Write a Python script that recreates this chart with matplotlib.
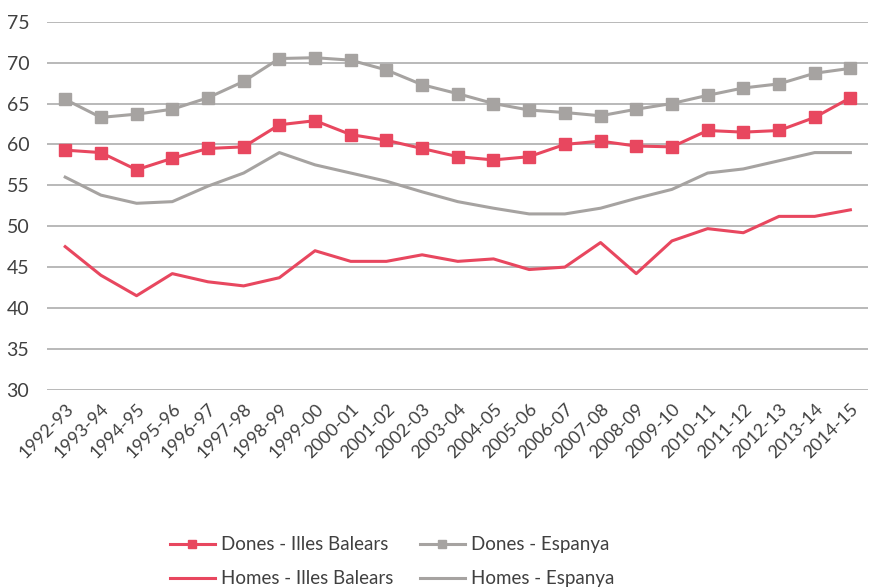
import numpy as np
import matplotlib.pyplot as plt

cursos = ["1992-93", "1993-94", "1994-95", "1995-96", "1996-97", "1997-98",
          "1998-99", "1999-00", "2000-01", "2001-02", "2002-03", "2003-04",
          "2004-05", "2005-06", "2006-07", "2007-08", "2008-09", "2009-10",
          "2010-11", "2011-12", "2012-13", "2013-14", "2014-15"]

dones_ib = [59.3, 59.0, 56.9, 58.3, 59.5, 59.7, 62.4, 62.9, 61.2, 60.5, 59.5,
            58.5, 58.1, 58.5, 60.0, 60.4, 59.8, 59.7, 61.7, 61.5, 61.7, 63.3, 65.7]
dones_es = [65.5, 63.3, 63.7, 64.3, 65.7, 67.7, 70.5, 70.6, 70.3, 69.1, 67.3,
            66.2, 65.0, 64.2, 63.9, 63.5, 64.3, 65.0, 66.0, 66.9, 67.4, 68.7, 69.3]
homes_ib = [47.5, 44.0, 41.5, 44.2, 43.2, 42.7, 43.7, 47.0, 45.7, 45.7, 46.5,
            45.7, 46.0, 44.7, 45.0, 48.0, 44.2, 48.2, 49.7, 49.2, 51.2, 51.2, 52.0]
homes_es = [56.0, 53.8, 52.8, 53.0, 54.9, 56.5, 59.0, 57.5, 56.5, 55.5, 54.2,
            53.0, 52.2, 51.5, 51.5, 52.2, 53.4, 54.5, 56.5, 57.0, 58.0, 59.0, 59.0]

vermell = "#e8475f"
gris = "#a6a3a1"

plt.rcParams['font.family'] = ['Lato', 'DejaVu Sans']

fig = plt.figure(figsize=(8.77, 5.87), dpi=100)
ax = fig.add_axes([0.054, 0.336, 0.936, 0.627])

x = np.arange(len(cursos))
l1, = ax.plot(x, dones_ib, color=vermell, lw=2.2, marker='s', ms=8, label="Dones - Illes Balears", zorder=4)
l2, = ax.plot(x, dones_es, color=gris, lw=2.2, marker='s', ms=8, label="Dones - Espanya", zorder=3)
l3, = ax.plot(x, homes_ib, color=vermell, lw=2.2, label="Homes - Illes Balears", zorder=4)
l4, = ax.plot(x, homes_es, color=gris, lw=2.2, label="Homes - Espanya", zorder=3)

ax.set_ylim(30, 75)
ax.set_yticks(range(30, 76, 5))
ax.set_xlim(-0.5, len(cursos) - 0.5)
ax.set_xticks(x)
ax.set_xticklabels(cursos, rotation=45, ha='right', rotation_mode='anchor')
ax.tick_params(axis='both', length=0, colors='#404040')
ax.tick_params(axis='x', pad=8, labelsize=13)
ax.tick_params(axis='y', pad=13, labelsize=14)
ax.grid(axis='y', color='#b3b3b3', lw=1.3)
ax.set_axisbelow(True)
for s in ax.spines.values():
    s.set_visible(False)

# ordre per files: Dones a dalt, Homes a baix
ax.legend([l1, l3, l2, l4], [l.get_label() for l in (l1, l3, l2, l4)],
          ncol=2, loc='upper center', bbox_to_anchor=(0.42, -0.352), frameon=False,
          fontsize=13.5, handlelength=2.4, columnspacing=1.4, labelspacing=0.9,
          handletextpad=0.35, markerscale=0.75, labelcolor='#404040')

fig.savefig("out.png", dpi=100)
